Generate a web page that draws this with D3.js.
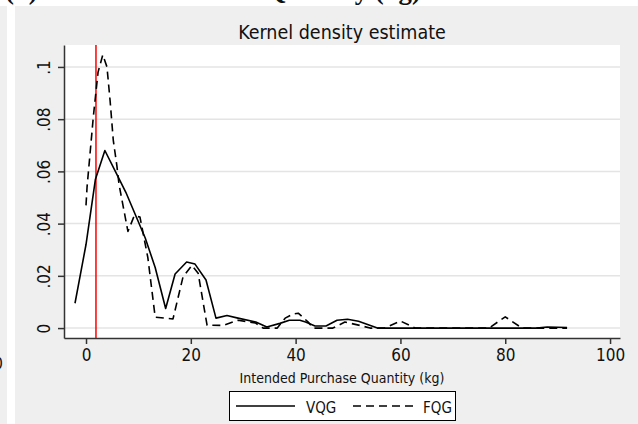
<!DOCTYPE html>
<html><head><meta charset="utf-8">
<script src="https://cdn.jsdelivr.net/npm/d3@7"></script>
<style>
body{margin:0;padding:0;background:#fff;}
svg{display:block;}
text{font-family:"Liberation Sans Narrow","DejaVu Sans Condensed","Roboto Condensed",sans-serif;fill:#111;}
</style>
</head><body>
<svg id="c" width="638" height="424"></svg>
<script>
// Data
const vqgX = [-2.1, 0, 1.8, 3.6, 6.1, 7.6, 11.3, 13.2, 15.2, 17, 19.2, 20.8, 22.9, 24.8, 26.9, 29, 32.4, 34.5, 37, 38.8, 40.8, 41.9, 43.7, 45.8, 47.9, 49.9, 52, 55.6, 60, 70, 80, 86, 88, 91.8];
const vqgY = [0.0095, 0.032, 0.057, 0.068, 0.058, 0.052, 0.0345, 0.0232, 0.0075, 0.0207, 0.0253, 0.0245, 0.0184, 0.0038, 0.0048, 0.0038, 0.0023, 0.0004, 0.0018, 0.003, 0.003, 0.0023, 0.0008, 0.0008, 0.003, 0.0034, 0.0026, 0.0, 0, 0, 0, 0, 0.0004, 0.0002];
const fqgX = [0, 0.2, 1.4, 2.3, 3.2, 4.0, 4.6, 5.2, 5.9, 6.3, 8, 9.2, 10.3, 11.8, 13.2, 16.6, 18.5, 20.2, 21.4, 23.1, 26.2, 29, 32.3, 33.8, 36.5, 38, 39.5, 40.5, 42.4, 43.3, 47.1, 49.4, 52.3, 54.2, 57, 60, 62.8, 76.9, 80, 83.2, 91.8];
const fqgY = [0.047, 0.054, 0.081, 0.098, 0.1046, 0.1, 0.087, 0.072, 0.062, 0.055, 0.037, 0.043, 0.0425, 0.027, 0.0042, 0.0035, 0.0195, 0.024, 0.021, 0.0011, 0.001, 0.003, 0.002, 0, 0, 0.0038, 0.0054, 0.0057, 0.0023, 0, 0, 0.0023, 0.001, 0, 0, 0.0027, 0, 0, 0.0043, 0, 0];
const refLine = 1.9;
const xTicks = [0, 20, 40, 60, 80, 100];
const yTicks = [0, 0.02, 0.04, 0.06, 0.08, 0.1];
const yTickLabels = ["0", ".02", ".04", ".06", ".08", ".1"];
const seriesNames = ["VQG", "FQG"];

const svg = d3.select("#c");
const W = 638, H = 424;
const L = 64, R = 620, T = 45, B = 338;

// backgrounds
svg.append("rect").attr("x",0).attr("y",0).attr("width",W).attr("height",H).attr("fill","#ffffff");
svg.append("rect").attr("x",0).attr("y",6).attr("width",7).attr("height",H-6).attr("fill","#efefef");
svg.append("rect").attr("x",15).attr("y",6).attr("width",W-15).attr("height",H-6).attr("fill","#efefef");
svg.append("text").attr("x",3).attr("y",369).attr("text-anchor","end").style("font-size","16px").text("100");

// clipped overall title (only descenders visible)
svg.append("clipPath").attr("id","topclip").append("rect").attr("x",0).attr("y",0).attr("width",W).attr("height",6);
const tg = svg.append("g").attr("clip-path","url(#topclip)");
const bigTitle = tg.append("text").attr("x",5).attr("y",-1)
  .style("font-family","'Liberation Serif','Times New Roman',serif").style("font-weight","bold").style("font-size","30px")
  .text("(b) Intended Purchase Quantity (kg)");
const tl = bigTitle.node().getComputedTextLength();
if (tl > 0) bigTitle.style("font-size", (30 * 416 / tl).toFixed(2) + "px");

// plot area
svg.append("rect").attr("x",L).attr("y",T).attr("width",R-L).attr("height",B-T).attr("fill","#ffffff");

const x = d3.scaleLinear().domain([-4.2, 101.9]).range([L, R]);
const y = d3.scaleLinear().domain([-0.0038, 0.1084]).range([B, T]);

// grid
svg.append("g").selectAll("line").data(yTicks).join("line")
  .attr("x1",L).attr("x2",R).attr("y1",d=>y(d)).attr("y2",d=>y(d))
  .attr("stroke","#e4e4e4").attr("stroke-width",1.5);

// axes
const xAxis = d3.axisBottom(x).tickValues(xTicks).tickSize(6).tickPadding(5).tickSizeOuter(0);
const gx = svg.append("g").attr("transform",`translate(0,${B})`).call(xAxis);
gx.select(".domain").attr("stroke","#333").attr("stroke-width",1.5);
gx.selectAll(".tick line").attr("stroke","#333").attr("stroke-width",1.5);
gx.selectAll(".tick text").style("font-size","17px").style("font-family",null).attr("fill","#111");

const yAxis = d3.axisLeft(y).tickValues(yTicks).tickFormat((d,i)=>yTickLabels[i]).tickSize(6).tickSizeOuter(0);
const gy = svg.append("g").attr("transform",`translate(${L},0)`).call(yAxis);
gy.select(".domain").attr("stroke","#333").attr("stroke-width",1.5);
gy.selectAll(".tick line").attr("stroke","#333").attr("stroke-width",1.5);
gy.selectAll(".tick text").style("font-size","17px").style("font-family",null).attr("fill","#111")
  .attr("text-anchor","middle").attr("x",0).attr("dy",0)
  .attr("transform","translate(-14,0) rotate(-90)");

// reference line
svg.append("line").attr("x1",x(refLine)).attr("x2",x(refLine)).attr("y1",T).attr("y2",B)
  .attr("stroke","#ff0000").attr("stroke-width",1.5);

const line = d3.line().x(d=>x(d[0])).y(d=>y(d[1]));
const vqg = vqgX.map((v,i)=>[v, vqgY[i]]);
const fqg = fqgX.map((v,i)=>[v, fqgY[i]]);
svg.append("path").datum(vqg).attr("d",line).attr("fill","none").attr("stroke","#000").attr("stroke-width",1.6).attr("stroke-linejoin","round");
svg.append("path").datum(fqg).attr("d",line).attr("fill","none").attr("stroke","#000").attr("stroke-width",1.6).attr("stroke-dasharray","8,5").attr("stroke-linejoin","round");

// titles
svg.append("text").attr("x",(L+R)/2).attr("y",39).attr("text-anchor","middle").style("font-size","19.5px").text("Kernel density estimate");
svg.append("text").attr("x",(L+R)/2).attr("y",383).attr("text-anchor","middle").style("font-size","14px").text("Intended Purchase Quantity (kg)");

// legend
const lg = svg.append("g");
lg.append("rect").attr("x",229.5).attr("y",391.5).attr("width",226).attr("height",29).attr("fill","#fff").attr("stroke","#000").attr("stroke-width",1);
lg.append("line").attr("x1",236).attr("x2",295).attr("y1",406).attr("y2",406).attr("stroke","#000").attr("stroke-width",1.6);
lg.append("text").attr("x",306).attr("y",413).style("font-size","15px").text(seriesNames[0]);
lg.append("line").attr("x1",353).attr("x2",413).attr("y1",406).attr("y2",406).attr("stroke","#000").attr("stroke-width",1.6).attr("stroke-dasharray","8,5");
lg.append("text").attr("x",423).attr("y",413).style("font-size","15px").text(seriesNames[1]);
</script>
</body></html>
